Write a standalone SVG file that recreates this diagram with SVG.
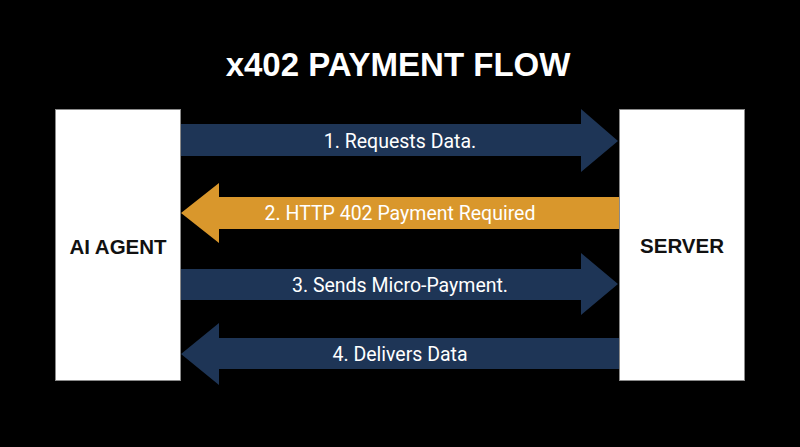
<svg xmlns="http://www.w3.org/2000/svg" width="800" height="447" viewBox="0 0 800 447">
<style>
.title{font-family:"Liberation Sans",Arial,sans-serif;font-weight:bold;font-size:33px;fill:#ffffff;text-anchor:middle}
.box{fill:#ffffff;stroke:#8a8a8a;stroke-width:1}
.boxlabel{font-family:"Liberation Sans",Arial,sans-serif;font-weight:bold;font-size:20.5px;fill:#111111;text-anchor:middle}
.navy{fill:#1e3556}
.orange{fill:#d9972c}
.alabel{font-family:Roboto,"Liberation Sans",sans-serif;font-size:19.5px;fill:#ffffff;text-anchor:middle}
</style>
<rect width="800" height="447" fill="#000000"/>
<text class="title" x="398" y="76">x402 PAYMENT FLOW</text>
<g id="connectors">
  <g id="arrow1">
    <polygon class="navy" points="181,124 581,124 581,109 618,141 581,172 581,156 181,156"/>
    <text class="alabel" x="400" y="148">1. Requests Data.</text>
  </g>
  <g id="arrow2">
    <polygon class="orange" points="619,197 219,197 219,183 181,213 219,243 219,229 619,229"/>
    <text class="alabel" x="400" y="220">2. HTTP 402 Payment Required</text>
  </g>
  <g id="arrow3">
    <polygon class="navy" points="181,269 581,269 581,253 618,284 581,315 581,300 181,300"/>
    <text class="alabel" x="400" y="292">3. Sends Micro-Payment.</text>
  </g>
  <g id="arrow4">
    <polygon class="navy" points="619,338 219,338 219,323 181,354 219,385 219,369 619,369"/>
    <text class="alabel" x="400" y="361">4. Delivers Data</text>
  </g>
</g>
<g id="agent">
  <rect class="box" x="55.5" y="109.5" width="125" height="271"/>
  <text class="boxlabel" x="118" y="254">AI AGENT</text>
</g>
<g id="server">
  <rect class="box" x="619.5" y="109.5" width="125" height="271"/>
  <text class="boxlabel" x="682" y="253">SERVER</text>
</g>
</svg>
